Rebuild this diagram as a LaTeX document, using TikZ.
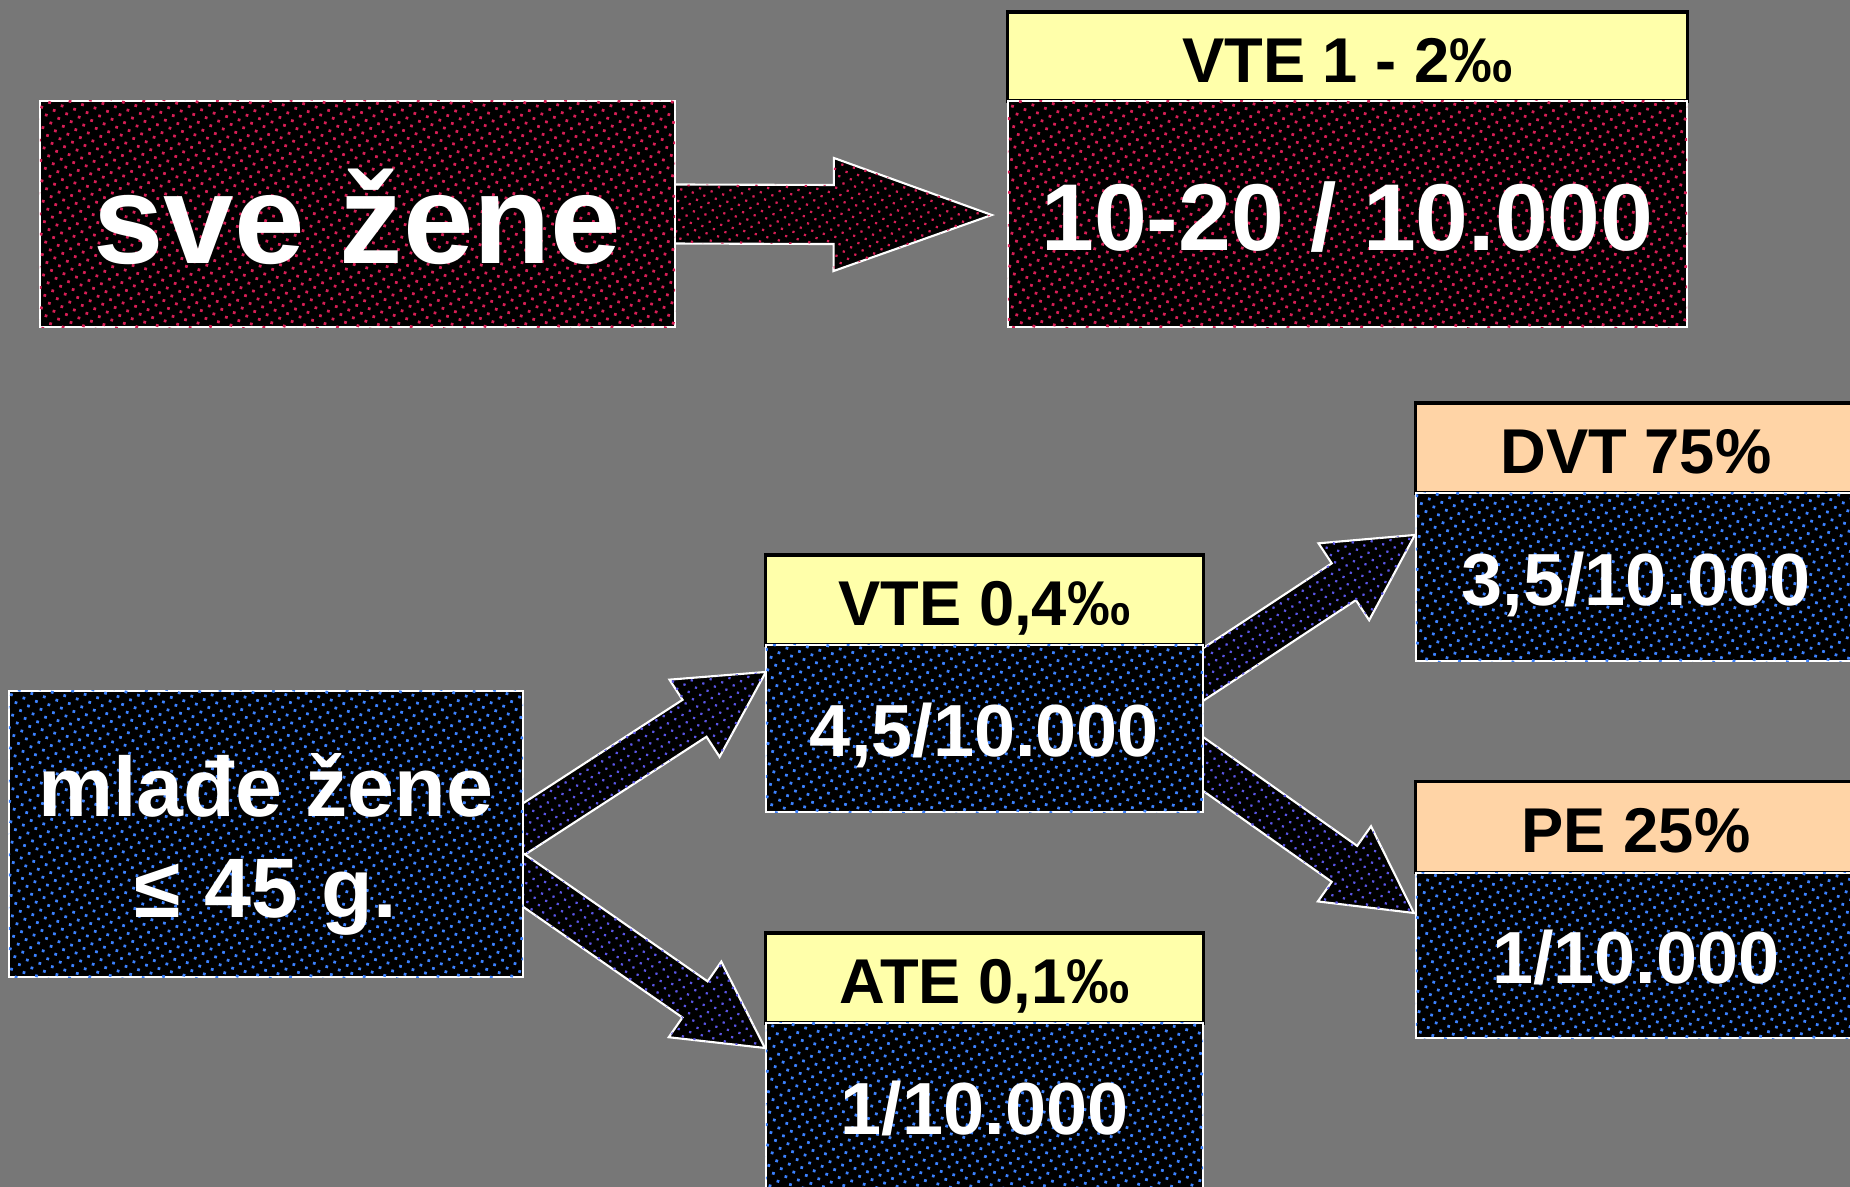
\documentclass[tikz,border=0pt]{standalone}
\usepackage{fontspec}
\setmainfont{Liberation Sans}
\usetikzlibrary{calc,patterns.meta}
\pgfdeclarelayer{back}
\pgfdeclarelayer{arrows}
\pgfsetlayers{back,arrows,main}
\definecolor{bggray}{RGB}{119,119,119}
\definecolor{dotred}{RGB}{215,30,85}
\definecolor{dotblue}{RGB}{60,130,255}
\definecolor{dotpurple}{RGB}{90,85,230}
\definecolor{hdryellow}{RGB}{255,255,170}
\definecolor{hdrpeach}{RGB}{255,212,166}
\tikzset{
  dotsfill/.style={fill=black, postaction={pattern={Dots[radius=0.55pt,distance=2.6pt,angle=30]}, pattern color=#1}},
  adotsfill/.style={fill=black, postaction={pattern={Dots[radius=0.45pt,distance=2.4pt,angle=30]}, pattern color=#1}},
  wbox/.style={draw=white, line width=0.6pt, inner sep=0pt, outer sep=0pt, text=white},
  hdr/.style={draw=black, line width=0.9pt, fill=#1, inner sep=0pt, outer sep=0pt, text=black,
    font=\fontsize{18}{22}\selectfont\bfseries, text height=14.5pt, text depth=0pt},
  numtxt/.style={font=\fontsize{21}{25}\selectfont\bfseries, text height=16pt, text depth=0pt},
  blockarrow/.style={draw=white, line width=0.6pt, line join=miter, adotsfill=#1},
}
\newcommand\blkarr[6]{%
  \coordinate (ba0) at ($(#1)!-0.4cm!(#2)$);
  \coordinate (bab) at ($(#2)!#5!(#1)$);
  \draw[blockarrow=#6] ($(ba0)!#3!90:(#2)$) -- ($(bab)!#3!-90:(#1)$) -- ($(bab)!#4!-90:(#1)$) -- (#2)
    -- ($(bab)!#4!90:(#1)$) -- ($(bab)!#3!90:(#1)$) -- ($(ba0)!#3!-90:(#2)$) -- cycle;
}
\begin{document}
\begin{tikzpicture}[x=0.01cm,y=-0.01cm]
\begin{pgfonlayer}{back}
\fill[bggray] (0,0) rectangle (1850,1187);
\end{pgfonlayer}
\clip (0,0) rectangle (1850,1187);
\useasboundingbox (0,0) rectangle (1850,1187);

% top row
\node[wbox, dotsfill=dotred, minimum width=6.35cm, minimum height=2.26cm,
  font=\fontsize{36}{43}\selectfont\bfseries, text height=28pt, text depth=0pt] (A) at (357.5,214) {sve žene};
\node[hdr=hdryellow, minimum width=6.79cm, minimum height=0.89cm] (bh) at (1347.5,56.5) {VTE 1 - 2‰};
\node[wbox, dotsfill=dotred, minimum width=6.79cm, minimum height=2.26cm,
  font=\fontsize{27}{32}\selectfont\bfseries, text height=21pt, text depth=0pt] (bb) at (1347.5,214) {10-20 / 10.000};

% left box
\node[wbox, dotsfill=dotblue, minimum width=5.14cm, minimum height=2.86cm] (C) at (266,834) {};
\node[font=\fontsize{24}{29}\selectfont\bfseries, text=white, anchor=base, inner sep=0pt] (cl1) at (266,816) {mlađe žene};
\node[font=\fontsize{24}{29}\selectfont\bfseries, text=white, anchor=base, inner sep=0pt] (cl2) at (266,917) {≤ 45 g.};

% middle column
\node[hdr=hdryellow, minimum width=4.37cm, minimum height=0.90cm] (vh) at (984.5,600) {VTE 0,4‰};
\node[wbox, dotsfill=dotblue, numtxt, minimum width=4.37cm, minimum height=1.67cm] (vb) at (984.5,728.5) {4,5/10.000};
\node[hdr=hdryellow, minimum width=4.37cm, minimum height=0.90cm] (ah) at (984.5,978) {ATE 0,1‰};
\node[wbox, dotsfill=dotblue, numtxt, minimum width=4.37cm, minimum height=1.67cm] (ab) at (984.5,1106.5) {1/10.000};

% right column
\node[hdr=hdrpeach, minimum width=4.40cm, minimum height=0.90cm] (dh) at (1636,448) {DVT 75\%};
\node[wbox, dotsfill=dotblue, numtxt, minimum width=4.40cm, minimum height=1.68cm] (db) at (1636,577) {3,5/10.000};
\node[hdr=hdrpeach, minimum width=4.40cm, minimum height=0.91cm] (ph) at (1636,827) {PE 25\%};
\node[wbox, dotsfill=dotblue, numtxt, minimum width=4.40cm, minimum height=1.65cm] (pb) at (1636,955.5) {1/10.000};

% arrows
\begin{pgfonlayer}{arrows}
\coordinate (t0) at (A.east);
\coordinate (q0) at ($(bb.west)+(-16,1)$);
\blkarr{t0}{q0}{0.295cm}{0.565cm}{1.58cm}{dotred}
\coordinate (t1) at ($(C.east)+(0,-4.5)$);
\coordinate (q1) at ($(vb.north west)+(0,27)$);
\blkarr{t1}{q1}{0.22cm}{0.46cm}{0.85cm}{dotpurple}
\coordinate (t2) at ($(C.east)+(0,46)$);
\coordinate (q2) at ($(ab.north west)+(-1,25)$);
\blkarr{t2}{q2}{0.22cm}{0.46cm}{0.85cm}{dotpurple}
\coordinate (t3) at ($(vb.north east)+(0,29.5)$);
\coordinate (q3) at ($(db.north west)+(-1,42)$);
\blkarr{t3}{q3}{0.22cm}{0.46cm}{0.85cm}{dotpurple}
\coordinate (t4) at ($(vb.north east)+(0,119)$);
\coordinate (q4) at ($(pb.north west)+(-2,40)$);
\blkarr{t4}{q4}{0.22cm}{0.46cm}{0.85cm}{dotpurple}
\end{pgfonlayer}
\end{tikzpicture}
\end{document}
